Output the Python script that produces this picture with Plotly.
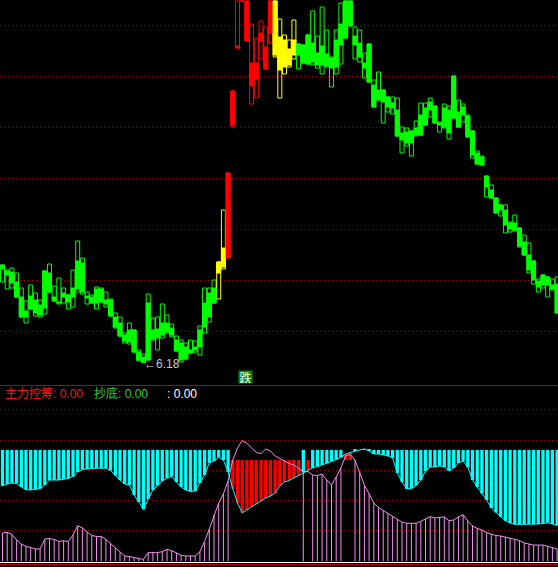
import numpy as np
import plotly.graph_objects as go

# ---------------- data ----------------
high = [7.16, 7.11, 7.13, 7.08, 6.93, 6.80, 6.96, 6.88, 6.81, 7.10,
        7.17, 6.95, 7.03, 6.93, 6.86, 7.11, 7.40, 7.23, 6.89, 6.86,
        6.94, 6.93, 6.89, 6.82, 6.68, 6.64, 6.48, 6.58, 6.51, 6.31,
        6.27, 6.87, 6.63, 6.64, 6.77, 6.66, 6.57, 6.45, 6.41, 6.38,
        6.41, 6.40, 6.55, 6.93, 6.93, 7.01, 7.19, 7.71, 8.08, 8.90,
        9.80, 9.80, 9.80, 9.57, 9.43, 9.60, 9.54, 9.80, 9.80, 9.62,
        9.46, 9.41, 9.61, 9.37, 9.36, 9.46, 9.70, 9.45, 9.74, 9.51,
        9.24, 9.51, 9.78, 9.80, 9.80, 9.54, 9.51, 9.28, 9.37, 9.01,
        9.09, 8.91, 8.84, 8.84, 8.83, 8.54, 8.53, 8.50, 8.60, 8.78,
        8.78, 8.83, 8.75, 8.59, 8.77, 8.75, 9.05, 8.81, 8.77, 8.66,
        8.50, 8.30, 8.25, 8.05, 7.96, 7.83, 7.76, 7.76, 7.59, 7.66,
        7.53, 7.46, 7.38, 7.20, 7.02, 7.06, 7.04, 7.02, 7.04]
low = [6.99, 6.92, 6.93, 6.84, 6.64, 6.58, 6.72, 6.65, 6.64, 6.67,
       6.89, 6.80, 6.77, 6.78, 6.72, 6.74, 6.89, 6.87, 6.77, 6.78,
       6.72, 6.79, 6.74, 6.65, 6.53, 6.45, 6.38, 6.37, 6.29, 6.20,
       6.18, 6.21, 6.41, 6.31, 6.43, 6.48, 6.44, 6.30, 6.19, 6.22,
       6.28, 6.29, 6.26, 6.48, 6.59, 6.78, 6.82, 7.12, 7.23, 8.54,
       9.33, 9.80, 9.40, 8.77, 8.83, 9.22, 9.12, 9.38, 9.24, 8.83,
       9.07, 9.14, 9.22, 9.12, 9.18, 9.17, 9.16, 9.13, 9.07, 9.14,
       8.94, 9.07, 9.17, 9.43, 9.55, 9.22, 9.19, 9.03, 8.99, 8.74,
       8.81, 8.58, 8.69, 8.67, 8.45, 8.28, 8.35, 8.25, 8.45, 8.46,
       8.56, 8.64, 8.58, 8.49, 8.53, 8.42, 8.63, 8.54, 8.59, 8.44,
       8.23, 8.17, 8.16, 7.84, 7.83, 7.68, 7.65, 7.48, 7.49, 7.50,
       7.34, 7.26, 7.08, 6.97, 6.89, 6.93, 6.84, 6.91, 6.68]
open_ = [7.16, 7.10, 7.09, 6.99, 6.84, 6.70, 6.85, 6.81, 6.76, 7.10,
         7.08, 6.84, 6.79, 6.88, 6.86, 6.93, 7.20, 7.18, 6.85, 6.84,
         6.92, 6.92, 6.81, 6.81, 6.64, 6.58, 6.46, 6.51, 6.51, 6.29,
         6.24, 6.78, 6.51, 6.52, 6.58, 6.58, 6.53, 6.41, 6.38, 6.34,
         6.31, 6.34, 6.51, 6.78, 6.88, 6.93, 7.19, 7.33, 8.08, 8.90,
         9.35, 9.80, 9.80, 9.18, 9.18, 9.48, 9.34, 9.80, 9.80, 9.44,
         9.41, 9.32, 9.41, 9.37, 9.36, 9.46, 9.38, 9.28, 9.35, 9.27,
         9.23, 9.41, 9.57, 9.80, 9.80, 9.45, 9.38, 9.18, 9.37, 8.96,
         8.91, 8.91, 8.84, 8.78, 8.71, 8.48, 8.49, 8.50, 8.53, 8.66,
         8.73, 8.79, 8.75, 8.58, 8.73, 8.71, 9.05, 8.69, 8.74, 8.65,
         8.50, 8.28, 8.24, 8.05, 7.91, 7.83, 7.76, 7.71, 7.58, 7.58,
         7.53, 7.39, 7.26, 7.20, 7.00, 7.06, 7.04, 6.96, 6.97]
close = [7.12, 7.06, 6.98, 6.84, 6.64, 6.64, 6.72, 6.68, 6.66, 6.73,
         6.89, 6.80, 6.78, 6.84, 6.79, 6.84, 6.92, 6.89, 6.83, 6.78,
         6.78, 6.79, 6.77, 6.65, 6.54, 6.45, 6.40, 6.39, 6.29, 6.21,
         6.19, 6.21, 6.42, 6.43, 6.46, 6.49, 6.46, 6.30, 6.21, 6.22,
         6.28, 6.31, 6.34, 6.54, 6.64, 6.78, 7.08, 7.14, 7.23, 8.56,
         9.33, 9.80, 9.40, 8.95, 9.02, 9.40, 9.12, 9.48, 9.26, 9.11,
         9.14, 9.16, 9.26, 9.26, 9.18, 9.17, 9.19, 9.16, 9.16, 9.15,
         9.13, 9.14, 9.36, 9.43, 9.55, 9.36, 9.24, 9.13, 8.99, 8.74,
         8.81, 8.79, 8.74, 8.73, 8.45, 8.41, 8.38, 8.38, 8.46, 8.46,
         8.56, 8.71, 8.58, 8.56, 8.54, 8.48, 8.63, 8.54, 8.66, 8.44,
         8.26, 8.17, 8.16, 7.94, 7.83, 7.68, 7.71, 7.56, 7.52, 7.51,
         7.35, 7.26, 7.11, 7.01, 6.94, 6.96, 6.96, 6.92, 6.68]
trend = ['g'] * 46 + ['y'] * 2 + ['r'] * 10 + ['y'] * 5 + ['g'] * 56

pink_vals = [18.7, 19.1, 17.7, 14.1, 11.4, 9.8, 9.1, 8.1, 8.1, 14.7,
             15.0, 14.4, 13.1, 13.6, 12.9, 17.4, 23.5, 22.0, 19.3, 17.0,
             16.4, 16.4, 14.4, 11.7, 8.8, 5.8, 3.5, 3.1, 2.5, 1.5,
             1.2, 5.7, 5.7, 5.7, 6.4, 7.9, 7.1, 5.5, 3.9, 3.5,
             3.5, 3.5, 6.3, 13.1, 21.3, 30.6, 38.5, 44.5, 53.1, 66.9,
             74.9, 79.8, 77.9, 74.9, 71.9, 71.2, 74.2, 72.9, 69.6, 67.9,
             66.0, 64.6, 63.6, 61.3, 59.3, 59.3, 57.0, 56.7, 57.7, 53.7,
             50.4, 55.7, 61.7, 69.6, 70.6, 66.9, 59.3, 50.4, 44.5, 38.5,
             35.5, 33.6, 31.6, 29.7, 27.6, 25.8, 25.1, 25.1, 25.1, 26.4,
             27.9, 29.5, 28.6, 28.9, 29.3, 26.8, 27.3, 29.3, 30.8, 26.6,
             23.3, 21.7, 20.7, 18.9, 17.8, 17.0, 16.7, 16.0, 15.2, 14.8,
             13.7, 12.1, 11.4, 10.7, 10.7, 10.7, 9.8, 8.8, 8.1]
cyan_vals = [49.8, 51.1, 51.7, 51.4, 49.1, 47.4, 47.1, 47.4, 48.0, 50.4,
             53.7, 53.7, 53.7, 54.2, 54.8, 56.0, 59.0, 60.7, 60.8, 61.3,
             61.5, 61.5, 61.5, 60.0, 56.7, 53.7, 51.1, 50.4, 43.8, 39.2,
             34.3, 41.2, 47.1, 50.1, 53.1, 55.0, 56.0, 52.4, 49.1, 47.1,
             46.1, 46.4, 51.7, 57.0, 65.0, 66.3, 68.7, 66.9, 59.0, 47.8,
             38.5, 32.1, 33.9, 35.9, 37.9, 39.8, 41.8, 43.1, 45.1, 49.8,
             52.4, 53.4, 55.0, 57.0, 58.7, 60.3, 61.7, 62.6, 63.6, 64.6,
             66.0, 67.3, 68.6, 70.9, 71.9, 72.9, 73.6, 74.2, 72.9, 70.9,
             70.9, 70.3, 69.6, 68.3, 58.4, 52.4, 47.8, 48.1, 50.1, 53.7,
             59.7, 62.3, 62.3, 63.0, 62.3, 59.7, 61.7, 65.0, 66.3, 62.3,
             53.7, 49.1, 44.8, 40.5, 35.2, 32.2, 29.3, 26.8, 25.3, 24.4,
             24.4, 24.4, 24.4, 24.5, 24.6, 25.0, 25.5, 24.6, 23.6]
red_idx = list(range(49, 64)) + [65, 73, 74]
cyan_top = 73.6
red_top = 66.9

grid_prices = [6.50, 7.01, 7.52, 8.03, 8.54, 9.05, 9.56]
grid_lower = [20, 40, 60, 80, 100]
low_label = "6.18"
low_bar = 30
signal_bar = 51.7
signal_text = "跌"
legend_items = [("主力控筹: 0.00", "#ff1010", 3), ("抄底: 0.00", "#33cc33", 92),
                (": 0.00", "#ffffff", 165)]

# ---------------- figure ----------------
W, H = 558, 567
n = len(high)
x = np.arange(n)
hi, lo, op, cl = map(np.array, (high, low, open_, close))
cmap = {'g': '#00ff00', 'y': '#ffff00', 'r': '#ff0000'}
colors = [cmap[t] for t in trend]

fig = go.Figure()
# candle outline (high-low box)
fig.add_bar(x=x, base=lo, y=hi - lo, width=0.85, yaxis='y',
            marker=dict(color='rgba(0,0,0,0)', line=dict(color=colors, width=1)),
            hoverinfo='skip')
# filled part (open-close)
fig.add_bar(x=x, base=np.minimum(op, cl), y=np.abs(op - cl), width=0.85, yaxis='y',
            marker=dict(color=colors, line=dict(color=colors, width=1)),
            hoverinfo='skip')

# lower indicator
is_red = np.zeros(n, bool)
is_red[red_idx] = True
cy = np.array(cyan_vals)
pk = np.array(pink_vals)
ci = x[~is_red]
ri = x[is_red]

px_, py_ = [], []
for i in ci:
    px_ += [i, i, None]
    py_ += [0, pk[i], None]
fig.add_scatter(x=px_, y=py_, mode='lines', yaxis='y2',
                line=dict(color='#f090ec', width=1), hoverinfo='skip')
fig.add_bar(x=ci, base=cy[~is_red], y=cyan_top - cy[~is_red], width=0.7, yaxis='y2',
            marker=dict(color='#00ffff', line=dict(width=0)), hoverinfo='skip')
fig.add_bar(x=ri, base=np.full(len(ri), red_top), y=cy[is_red] - red_top, width=0.7,
            yaxis='y2', marker=dict(color='#ff0000', line=dict(width=0)), hoverinfo='skip')
fig.add_scatter(x=x, y=cy, mode='lines', yaxis='y2',
                line=dict(color='#00ffff', width=1), hoverinfo='skip')
fig.add_scatter(x=x, y=pk, mode='lines', yaxis='y2',
                line=dict(color='#f090ec', width=1), hoverinfo='skip')

split = 385
dom_split = 1 - split / H
grid_style = dict(showticklabels=False, showgrid=True, gridcolor='#9a0000',
                  griddash='1px,3px', gridwidth=1, zeroline=False, showline=False,
                  ticks='', fixedrange=True)

fig.update_layout(
    width=W, height=H, margin=dict(l=0, r=0, t=0, b=0),
    paper_bgcolor='black', plot_bgcolor='black', showlegend=False,
    barmode='overlay',
    xaxis=dict(range=[-0.532, 118.19], visible=False, anchor='y2', fixedrange=True),
    yaxis=dict(domain=[dom_split, 1], range=[5.96, 9.81], tickvals=grid_prices, **grid_style),
    yaxis2=dict(domain=[0, dom_split], range=[-3.8, 116.5], tickvals=grid_lower, **grid_style),
)

shapes = [
    dict(type='line', xref='paper', yref='paper', x0=0, x1=1,
         y0=1 - (split + 0.5) / H, y1=1 - (split + 0.5) / H, line=dict(color='#c00000', width=1)),
    dict(type='line', xref='paper', yref='paper', x0=0, x1=1,
         y0=1 - 562.5 / H, y1=1 - 562.5 / H, line=dict(color='#ffffff', width=1)),
    dict(type='line', xref='paper', yref='paper', x0=0, x1=1,
         y0=1 - 564.5 / H, y1=1 - 564.5 / H, line=dict(color='#c00000', width=1)),
]
fig.update_layout(shapes=shapes)

ann = [
    dict(x=low_bar, y=float(lo[low_bar]), xref='x', yref='y', text='←' + low_label,
         showarrow=False, xanchor='left', yanchor='middle', xshift=-2, yshift=-1,
         font=dict(family='Liberation Sans, DejaVu Sans', size=12, color='#c8c8c8')),
    dict(x=signal_bar, y=6.04, xref='x', yref='y', text=signal_text, showarrow=False,
         xanchor='center', yanchor='middle', width=13, height=12, borderpad=0,
         bgcolor='#008c00',
         font=dict(family='Noto Sans CJK SC', size=12, color='#ffffff')),
]
for txt, col, xpx in legend_items:
    ann.append(dict(x=xpx / W, y=1 - 393.5 / H, xref='paper', yref='paper', text=txt,
                    showarrow=False, xanchor='left', yanchor='middle',
                    font=dict(family='Liberation Sans, Noto Sans CJK SC', size=12, color=col)))
fig.update_layout(annotations=ann)

fig.write_html("out.html", config={'displayModeBar': False},
               post_script="document.body.style.margin='0';")
